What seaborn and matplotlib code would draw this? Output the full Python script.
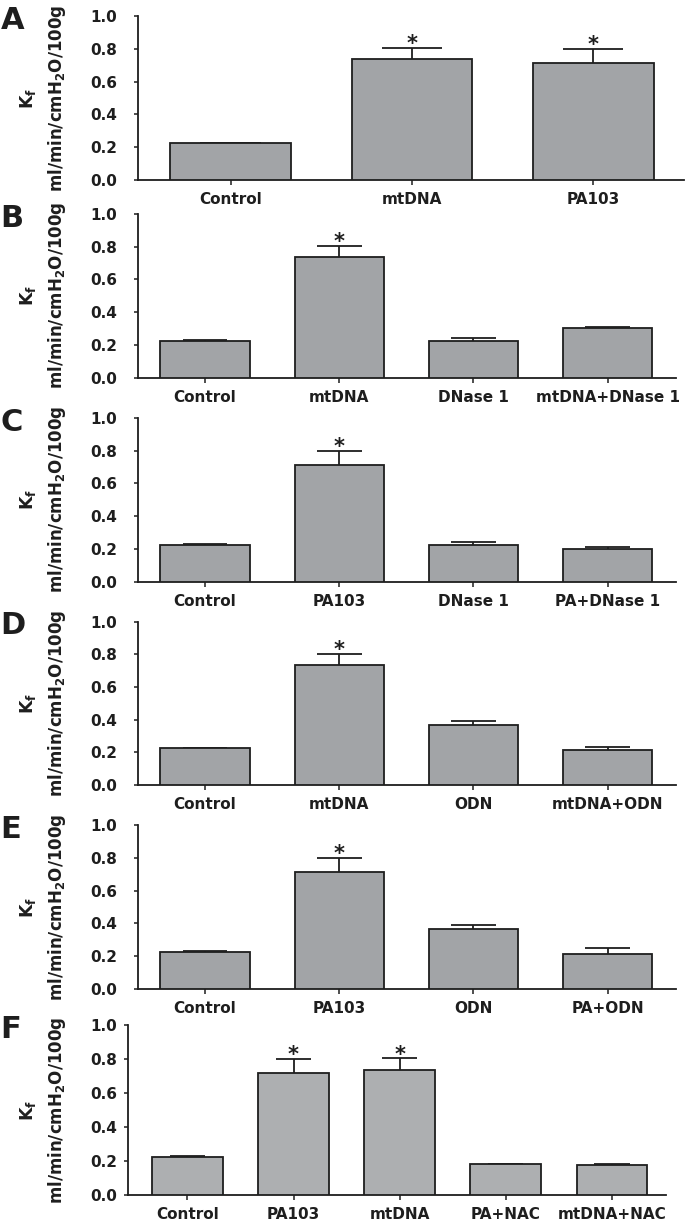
import matplotlib
matplotlib.use("Agg")
import matplotlib.pyplot as plt
import seaborn as sns
import pandas as pd
import numpy as np

sns.set_theme(style="white")
plt.rcParams['font.family'] = ['DejaVu Sans']
plt.rcParams['font.weight'] = 'bold'

# ---------------- data ----------------
letters = ["A", "B", "C", "D", "E", "F"]

cats_A = ["Control", "mtDNA", "PA103"]
vals_A = [0.225, 0.735, 0.715]
errs_A = [0.004, 0.068, 0.084]
sig_A = [False, True, True]

cats_B = ["Control", "mtDNA", "DNase 1", "mtDNA+DNase 1"]
vals_B = [0.225, 0.735, 0.226, 0.301]
errs_B = [0.004, 0.068, 0.018, 0.007]
sig_B = [False, True, False, False]

cats_C = ["Control", "PA103", "DNase 1", "PA+DNase 1"]
vals_C = [0.225, 0.715, 0.226, 0.197]
errs_C = [0.004, 0.084, 0.018, 0.018]
sig_C = [False, True, False, False]

cats_D = ["Control", "mtDNA", "ODN", "mtDNA+ODN"]
vals_D = [0.225, 0.735, 0.365, 0.215]
errs_D = [0.004, 0.068, 0.025, 0.015]
sig_D = [False, True, False, False]

cats_E = ["Control", "PA103", "ODN", "PA+ODN"]
vals_E = [0.225, 0.715, 0.365, 0.215]
errs_E = [0.004, 0.084, 0.025, 0.032]
sig_E = [False, True, False, False]

cats_F = ["Control", "PA103", "mtDNA", "PA+NAC", "mtDNA+NAC"]
vals_F = [0.225, 0.715, 0.735, 0.182, 0.177]
errs_F = [0.004, 0.084, 0.068, 0.003, 0.003]
sig_F = [False, True, True, False, False]

yticks = [0.0, 0.2, 0.4, 0.6, 0.8, 1.0]
ylabel_top = "K$_\\mathregular{f}$"
ylabel_unit = "ml/min/cmH$_\\mathregular{2}$O/100g"

panels = [
    (cats_A, vals_A, errs_A, sig_A),
    (cats_B, vals_B, errs_B, sig_B),
    (cats_C, vals_C, errs_C, sig_C),
    (cats_D, vals_D, errs_D, sig_D),
    (cats_E, vals_E, errs_E, sig_E),
    (cats_F, vals_F, errs_F, sig_F),
]

# layout (pixels): left, right, top(1.0), bottom(0.0)
W, H = 689, 1229
boxes = [
    (138, 684, 15.7, 180.3),
    (138, 676, 214, 377.7),
    (138, 676, 418, 581.7),
    (138, 676, 621.5, 785),
    (138, 676, 825, 989),
    (128, 666, 1025, 1195),
]
xlims = [(-0.51, 2.5), (-0.5, 3.51), (-0.5, 3.51), (-0.5, 3.51), (-0.5, 3.51), (-0.56, 4.51)]
ypads = [12, 12, 12, 12, 12, 5]
colors = ["#a2a4a7"] * 5 + ["#adafb1"]

fig = plt.figure(figsize=(W / 100, H / 100), dpi=100)

for i, ((cats, vals, errs, sig), (l, r, t, b)) in enumerate(zip(panels, boxes)):
    ax = fig.add_axes([l / W, 1 - b / H, (r - l) / W, (b - t) / H])
    df = pd.DataFrame({"group": cats, "value": vals})
    sns.barplot(data=df, x="group", y="value", order=cats, color=colors[i],
                saturation=1, width=0.665, edgecolor="#1e1e1e", linewidth=1.3,
                errorbar=None, ax=ax, zorder=3)
    x = np.arange(len(cats))
    ax.errorbar(x, vals, yerr=[np.zeros(len(vals)), errs], fmt="none",
                ecolor="#1e1e1e", elinewidth=1.3, capsize=0, zorder=2)
    cw = 0.665 / 2
    for xi, v, e in zip(x, vals, errs):
        ax.plot([xi - cw / 2, xi + cw / 2], [v + e, v + e], color="#1e1e1e",
                lw=1.3, zorder=2, solid_capstyle="butt")
    for xi, v, e, s in zip(x, vals, errs, sig):
        if s:
            ax.annotate("*", (xi, v + e), xytext=(0, -1.5), textcoords="offset points",
                        ha="center", va="baseline", fontsize=15, fontweight="bold",
                        color="#1e1e1e")
    ax.set_xlim(*xlims[i])
    ax.set_ylim(0, 1.0)
    ax.set_yticks(yticks)
    ax.set_yticklabels([f"{v:.1f}" for v in yticks])
    ax.set_xlabel("")
    ax.set_ylabel(ylabel_unit, fontsize=12, fontweight="bold")
    ax.yaxis.set_label_coords((68 - l) / (r - l), 0.5)
    ax.text((38 - l) / (r - l), 0.5, ylabel_top, transform=ax.transAxes,
            rotation=90, ha="right", va="center", fontsize=12.5,
            fontweight="bold", color="#1e1e1e")
    ax.yaxis.label.set_color("#1e1e1e")
    for sp in ["top", "right"]:
        ax.spines[sp].set_visible(False)
    for sp in ["left", "bottom"]:
        ax.spines[sp].set_color("#1e1e1e")
        ax.spines[sp].set_linewidth(1.3)
    ax.tick_params(axis="y", direction="out", length=3, width=1.1, color="#1e1e1e",
                   pad=ypads[i], labelsize=11, labelcolor="#1e1e1e", left=True)
    ax.tick_params(axis="x", direction="out", length=3.5, width=1.1, color="#1e1e1e",
                   pad=5, labelsize=11, labelcolor="#1e1e1e", bottom=True)
    for lab in ax.get_xticklabels() + ax.get_yticklabels():
        lab.set_fontweight("bold")
    ax.set_facecolor("white")
    fig.text(0.5 / W, 1 - (t - 10) / H, letters[i], fontsize=22, fontweight="bold",
             ha="left", va="top", color="#1e1e1e")

fig.savefig("out.png", dpi=100, facecolor="white")
